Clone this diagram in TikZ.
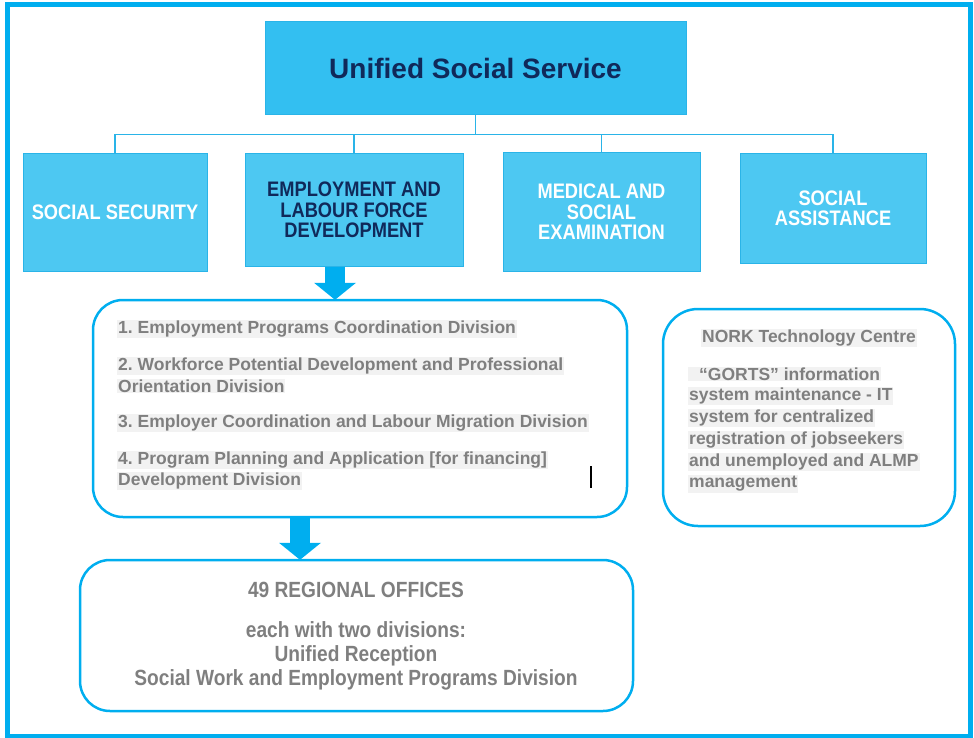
\documentclass[tikz,border=0pt]{standalone}
\usepackage{fontspec}
\setmainfont{Liberation Sans}
\newfontfamily\narrowsf[FakeStretch=0.87]{Liberation Sans}
\usetikzlibrary{arrows.meta, calc, positioning}
\frenchspacing

\definecolor{frameblue}{HTML}{00AEEF}
\definecolor{headblue}{HTML}{33BFF1}
\definecolor{unitblue}{HTML}{4DC8F2}
\definecolor{edgeblue}{HTML}{2AB4E8}
\definecolor{navy}{HTML}{10295A}
\definecolor{textgray}{HTML}{7F7F7F}
\definecolor{markgray}{HTML}{F2F2F2}

\begin{document}
\begin{tikzpicture}[
	x=1pt, y=-1pt,
	head/.style = {draw=edgeblue, fill=headblue, line width=1pt, minimum width=421pt, minimum height=93pt, font=\bfseries\fontsize{28}{30}\selectfont, text=navy},
	unit/.style = {draw=edgeblue, fill=unitblue, line width=1pt, align=center, inner sep=2pt, font=\narrowsf\bfseries\fontsize{21}{20.5}\selectfont, text=white},
	panel/.style = {draw=frameblue, line width=2.5pt, rounded corners=30pt},
	link/.style = {draw=edgeblue, line width=1.5pt},
	push/.style = {frameblue, line width=20pt, -{Triangle[width=42pt, length=17pt, line width=0pt]}},
	item/.style = {anchor=west, fill=markgray, text=textgray, inner sep=1pt, align=left, font=\bfseries\fontsize{17.5}{20}\selectfont},
	office/.style = {text=textgray, inner sep=1pt, align=center, font=\narrowsf\bfseries\fontsize{22}{24}\selectfont}
]

\useasboundingbox (0,0) rectangle (974,738);
\draw[frameblue, line width=5pt] (7,5) rectangle (970,736);

% top level and the four services
\node[head] (service) at (475.5,68.5) {Unified Social Service};

\node[unit, minimum width=184pt, minimum height=117pt] (security) at (115,212.5) {SOCIAL SECURITY};
\node[unit, minimum width=218pt, minimum height=112pt, text=navy] (employment) at (354,210) {EMPLOYMENT AND\\LABOUR FORCE\\DEVELOPMENT};
\node[unit, minimum width=197pt, minimum height=118pt] (medical) at (601.5,212) {MEDICAL AND\\SOCIAL\\EXAMINATION};
\node[unit, minimum width=186pt, minimum height=109pt] (assistance) at (833,208.5) {SOCIAL\\ASSISTANCE};

\path (service.south) ++(0,19) coordinate (bus);
\draw[link] (service.south) -- (bus);
\foreach \n in {security, employment, medical, assistance}
	\draw[link] (bus) -| (\n.north);

% panels
\draw[panel] (93,300) rectangle (627,517);
\node[minimum width=534pt, minimum height=217pt] (divisions) at (360,408.5) {};
\draw[panel, rounded corners=35pt] (663,309) rectangle (955,526);
\node[minimum width=292pt, minimum height=217pt] (nork) at (809,417.5) {};
\draw[panel] (80,560) rectangle (633,711);
\node[minimum width=553pt, minimum height=151pt] (offices) at (356.5,635.5) {};

\foreach \y/\t [count=\i] in {
	329/{1. Employment Programs Coordination Division},
	366/{2. Workforce Potential Development and Professional},
	386/{Orientation Division},
	423/{3. Employer Coordination and Labour Migration Division},
	460/{4. Program Planning and Application [for financing]},
	481/{Development Division}}
	\node[item] (div\i) at (117,\y) {\t};
\draw[line width=1.2pt] (591,466) -- (591,488);

\node[item, anchor=center] (nork title) at (809,338) {NORK Technology Centre};
\foreach \y/\t [count=\i] in {
	374/{\hspace*{10pt}“GORTS” information},
	396/{system maintenance - IT},
	418/{system for centralized},
	440/{registration of jobseekers},
	462/{and unemployed and ALMP},
	484/{management}}
	\node[item] (nork\i) at (688,\y) {\t};

\node[office] (offices title) at (356,590) {49 REGIONAL OFFICES};
\node[office] (offices text) at (356,655.5) {each with two divisions:\\Unified Reception\\Social Work and Employment Programs Division};

% block arrows
\path (employment.south) ++(-19,0) coordinate (a1);
\draw[push] (a1) -- (a1 |- divisions.north);
\path (divisions.south) ++(-60,0) coordinate (a2);
\draw[push] (a2) -- (a2 |- offices.north);

\end{tikzpicture}
\end{document}
